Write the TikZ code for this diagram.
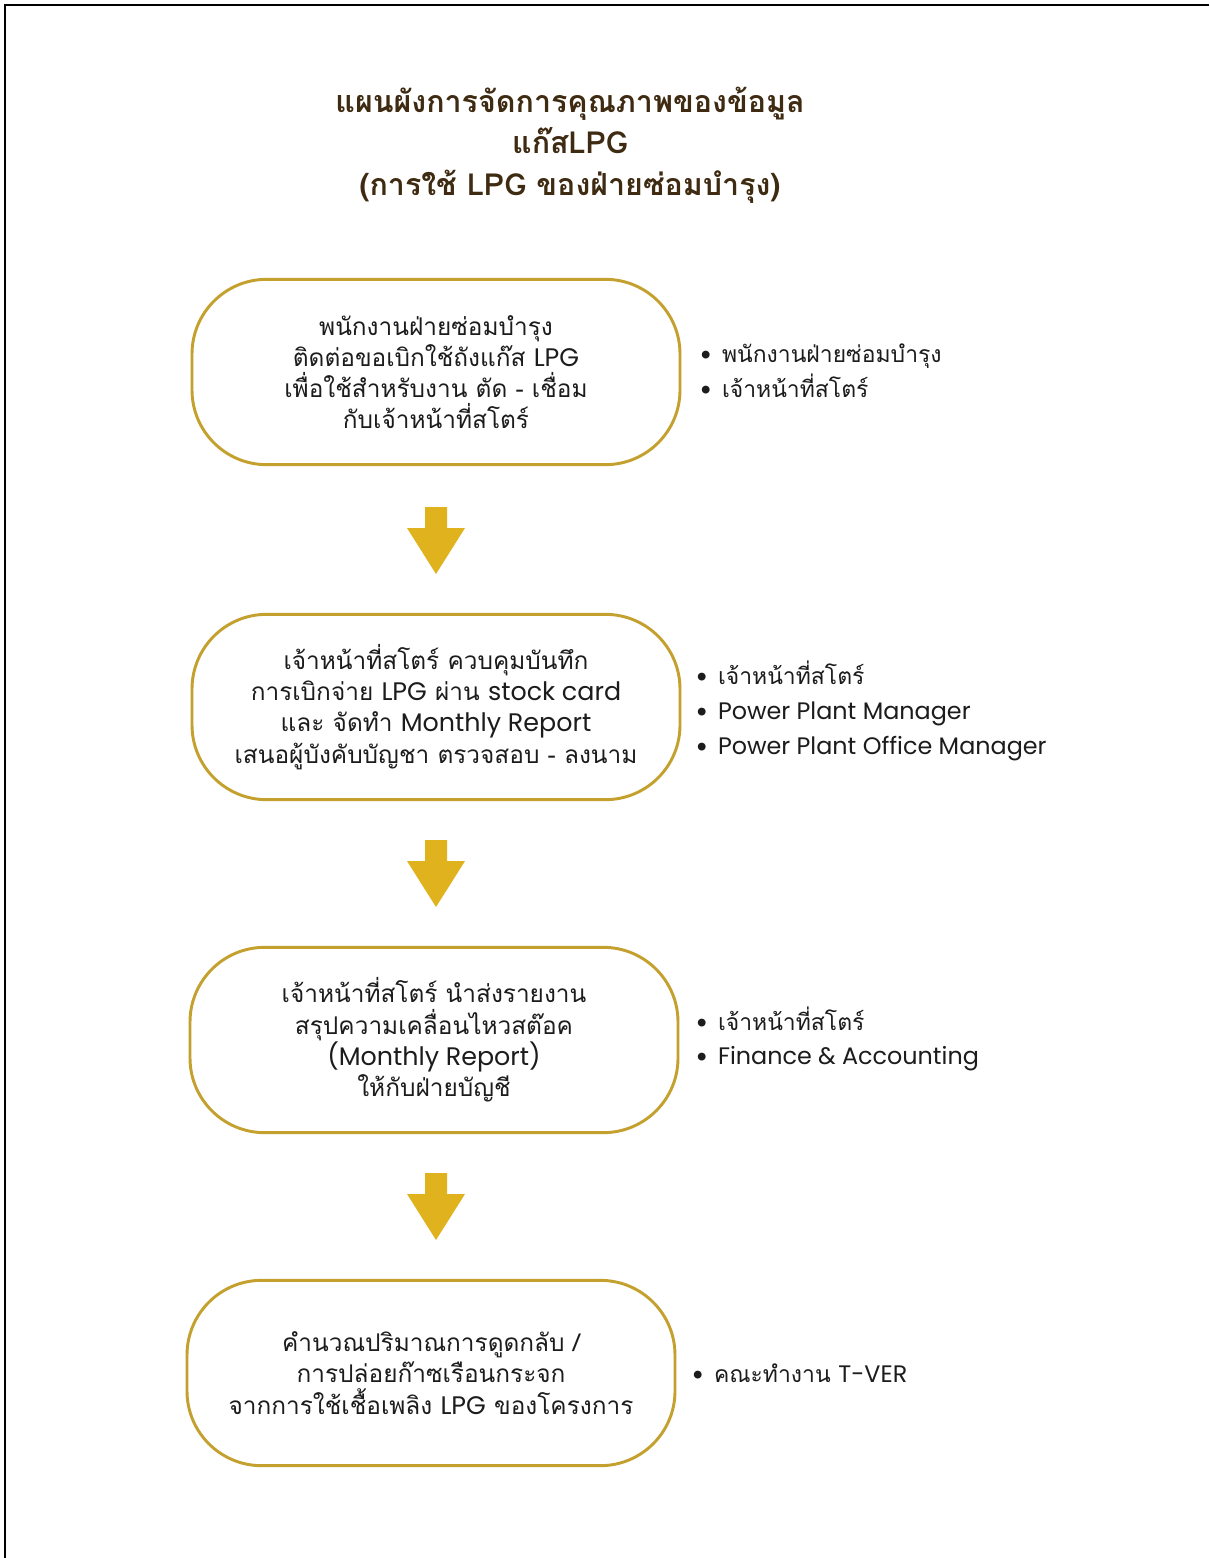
\documentclass[tikz,border=0pt]{standalone}
\usepackage{fontspec}
\setmainfont[Script=Thai]{Loma}
\newfontfamily\thaifont[Script=Thai]{Loma}
\newfontfamily\latfont[Scale=1.04]{Poppins}
\newcommand{\lat}[1]{{\latfont #1}}
\usetikzlibrary{positioning,calc}
\definecolor{goldline}{HTML}{C4A12F}
\definecolor{goldfill}{HTML}{E0B21E}
\definecolor{titlebrown}{HTML}{3F2B12}
\definecolor{textdark}{HTML}{1C1C1C}
\tikzset{
  stepbox/.style={draw=goldline, line width=2.2pt, rounded corners=56pt, fill=white,
    minimum width=366pt, minimum height=139pt, align=center, text=textdark,
    font=\thaifont\fontsize{18.3pt}{23.4pt}\selectfont},
  rolelist/.style={anchor=west, align=left, text=textdark,
    font=\thaifont\fontsize{17.2pt}{26pt}\selectfont},
  titletext/.style={align=center, text=titlebrown,
    font=\thaifont\bfseries\fontsize{22.8pt}{31pt}\selectfont},
  frameline/.style={line width=2pt, black},
  blockarrow/.style={fill=goldfill}
}
\newcommand{\downblock}[2]{%
  \fill[blockarrow] ($(#1)+(-11,-#2)$) -- ($(#1)+(11,-#2)$) -- ($(#1)+(11,-#2+21)$) -- ($(#1)+(29,-#2+21)$)
    -- ($(#1)+(0,-#2+67)$) -- ($(#1)+(-29,-#2+21)$) -- ($(#1)+(-11,-#2+21)$) -- cycle;}
\newcommand{\bul}{•\hspace{8pt}}
\begin{document}
\begin{tikzpicture}[x=0.75pt,y=-0.75pt]
\useasboundingbox (0,0) rectangle (1209,1558);
\fill[white] (0,0) rectangle (1209,1558);
\coordinate (ftl) at (5,5);
\coordinate (ftr) at (1209,5);
\coordinate (fbl) at (5,1558);
\draw[frameline] (ftr) -- (ftl) -- (fbl);

\node[titletext] (title) at (570,145) {แผนผังการจัดการคุณภาพของข้อมูล\\แก๊สLPG\\(การใช้ LPG ของฝ่ายซ่อมบำรุง)};

\node[stepbox] (b1) at (436,372) {พนักงานฝ่ายซ่อมบำรุง\\ติดต่อขอเบิกใช้ถังแก๊ส \lat{LPG}\\เพื่อใช้สำหรับงาน ตัด - เชื่อม\\กับเจ้าหน้าที่สโตร์};
\node[stepbox] (b2) at (436,707) {เจ้าหน้าที่สโตร์ ควบคุมบันทึก\\การเบิกจ่าย \lat{LPG} ผ่าน \lat{stock card}\\และ จัดทำ \lat{Monthly Report}\\เสนอผู้บังคับบัญชา ตรวจสอบ - ลงนาม};
\node[stepbox] (b3) at (434,1040) {เจ้าหน้าที่สโตร์ นำส่งรายงาน\\สรุปความเคลื่อนไหวสต๊อค\\\lat{(Monthly Report)}\\ให้กับฝ่ายบัญชี};
\node[stepbox] (b4) at (431,1373) {คำนวณปริมาณการดูดกลับ /\\การปล่อยก๊าซเรือนกระจก\\จากการใช้เชื้อเพลิง \lat{LPG} ของโครงการ};

\node[rolelist] (r1) at (696,371) {\bul พนักงานฝ่ายซ่อมบำรุง\\\bul เจ้าหน้าที่สโตร์};
\node[rolelist] (r2) at (692,711) {\bul เจ้าหน้าที่สโตร์\\\bul \lat{Power Plant Manager}\\\bul \lat{Power Plant Office Manager}};
\node[rolelist] (r3) at (692,1039) {\bul เจ้าหน้าที่สโตร์\\\bul \lat{Finance \& Accounting}};
\node[rolelist] (r4) at (688,1373) {\bul คณะทำงาน \lat{T-VER}};

\coordinate (a1) at (436,574);
\coordinate (a2) at (436,907);
\coordinate (a3) at (436,1240);
\downblock{a1}{67}
\downblock{a2}{67}
\downblock{a3}{67}
\end{tikzpicture}
\end{document}
